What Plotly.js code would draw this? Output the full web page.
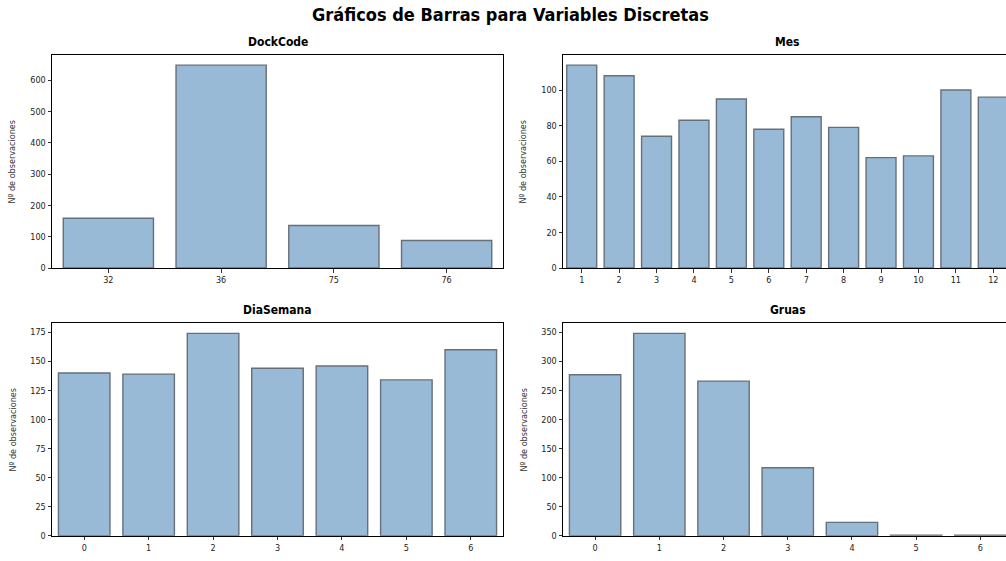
<!DOCTYPE html>
<html>
<head>
<meta charset="utf-8">
<script src="https://cdn.plot.ly/plotly-3.0.1.min.js"></script>
<style>
  html, body { margin: 0; padding: 0; overflow: hidden; background: #fff; }
  #chart { width: 1020px; height: 561px; }
</style>
</head>
<body>
<div id="chart"></div>
<script>
// ---- Data ----
const mainTitle = "Gráficos de Barras para Variables Discretas";
const yLabel = "Nº de observaciones";

const dockTitle = "DockCode";
const dockCats = ["32", "36", "75", "76"];
const dockVals = [159, 648, 136, 88];

const mesTitle = "Mes";
const mesCats = ["1", "2", "3", "4", "5", "6", "7", "8", "9", "10", "11", "12"];
const mesVals = [114, 108, 74, 83, 95, 78, 85, 79, 62, 63, 100, 96];

const diaTitle = "DiaSemana";
const diaCats = ["0", "1", "2", "3", "4", "5", "6"];
const diaVals = [140, 139, 174, 144, 146, 134, 160];

const gruasTitle = "Gruas";
const gruasCats = ["0", "1", "2", "3", "4", "5", "6"];
const gruasVals = [277, 348, 266, 117, 23, 1, 1];

// ---- Styling ----
const W = 1020, H = 561;
const FONT = "DejaVu Sans Condensed, DejaVu Sans, sans-serif";
const barFill = "rgba(70,130,180,0.55)";
const barEdge = "#66707a";

function px2x(p) { return p / W; }
function px2y(p) { return (H - p) / H; }

const panels = [
  { title: dockTitle, cats: dockCats, vals: dockVals, dtick: 100, xd: [52, 503], yd: [55, 268] },
  { title: mesTitle, cats: mesCats, vals: mesVals, dtick: 20, xd: [563, 1012], yd: [55, 268] },
  { title: diaTitle, cats: diaCats, vals: diaVals, dtick: 25, xd: [52, 503], yd: [323.3, 535.7] },
  { title: gruasTitle, cats: gruasCats, vals: gruasVals, dtick: 50, xd: [563, 1012.5], yd: [323.3, 535.7] }
];

const data = [];
const layout = {
  width: W, height: H,
  margin: { l: 0, r: 0, t: 0, b: 0 },
  paper_bgcolor: "#fff",
  plot_bgcolor: "#fff",
  showlegend: false,
  bargap: 0.2,
  font: { family: FONT, color: "#222" },
  annotations: []
};

layout.annotations.push({
  text: "<b>" + mainTitle + "</b>",
  xref: "paper", yref: "paper",
  x: 0.5, y: px2y(15), xanchor: "center", yanchor: "middle",
  showarrow: false,
  font: { family: FONT, size: 18, color: "#000" }
});

panels.forEach((p, i) => {
  const n = i + 1;
  const xa = n === 1 ? "x" : "x" + n;
  const ya = n === 1 ? "y" : "y" + n;
  data.push({
    type: "bar",
    x: p.cats, y: p.vals,
    xaxis: xa, yaxis: ya,
    marker: { color: barFill, line: { color: barEdge, width: 1.4 } },
    hoverinfo: "x+y"
  });
  const maxV = Math.max(...p.vals);
  const common = {
    showline: true, mirror: true, linecolor: "#000", linewidth: 1,
    ticks: "outside", ticklen: 3.5, tickwidth: 0.8, tickcolor: "#000",
    showgrid: false, zeroline: false,
    tickfont: { family: FONT, size: 9, color: "#222" }
  };
  layout["xaxis" + (n === 1 ? "" : n)] = Object.assign({}, common, {
    domain: [px2x(p.xd[0]), px2x(p.xd[1])],
    anchor: ya,
    type: "category",
    range: [-0.5, p.cats.length - 0.5],
    fixedrange: true
  });
  layout["yaxis" + (n === 1 ? "" : n)] = Object.assign({}, common, {
    domain: [px2y(p.yd[1]), px2y(p.yd[0])],
    anchor: xa,
    range: [0, maxV * 1.05],
    dtick: p.dtick,
    fixedrange: true
  });
  // subplot title
  layout.annotations.push({
    text: "<b>" + p.title + "</b>",
    xref: "paper", yref: "paper",
    x: px2x((p.xd[0] + p.xd[1]) / 2), y: px2y(p.yd[0] - 13),
    xanchor: "center", yanchor: "middle",
    showarrow: false,
    font: { family: FONT, size: 12, color: "#000" }
  });
  // y-axis title
  layout.annotations.push({
    text: yLabel,
    xref: "paper", yref: "paper",
    x: px2x(p.xd[0] - 40), y: px2y((p.yd[0] + p.yd[1]) / 2),
    xanchor: "center", yanchor: "middle",
    textangle: -90,
    showarrow: false,
    font: { family: FONT, size: 9, color: "#333" }
  });
});

Plotly.newPlot("chart", data, layout, { displayModeBar: false, staticPlot: true });
</script>
</body>
</html>
